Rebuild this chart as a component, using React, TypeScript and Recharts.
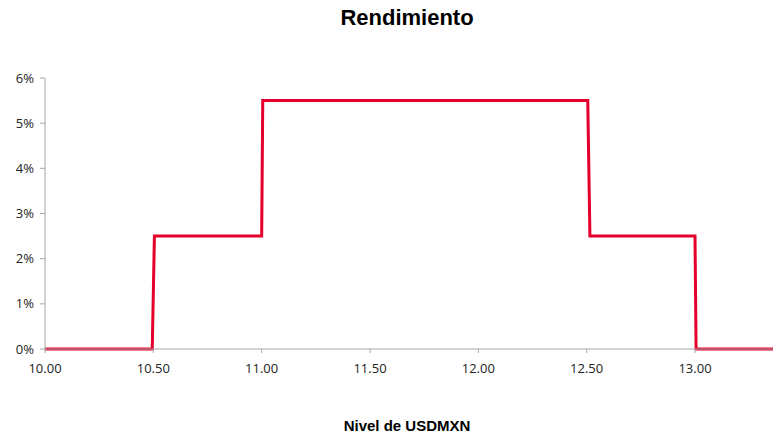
import { CartesianGrid, Line, LineChart, XAxis, YAxis } from "recharts"

// nivel de USDMXN vs rendimiento (payoff escalonado)
const nivel = [10.0, 10.495, 10.505, 11.0, 11.005, 12.505, 12.515, 13.0, 13.005, 13.36]
const rendimiento = [0, 0, 0.025, 0.025, 0.055, 0.055, 0.025, 0.025, 0, 0]

const xTicks = [10, 10.5, 11, 11.5, 12, 12.5, 13]
const yTicks = [0, 0.01, 0.02, 0.03, 0.04, 0.05, 0.06]

const data = nivel.map((x, i) => ({ x, y: rendimiento[i] }))

const axisColor = "#a6a6a6"
const tickStyle = { fontFamily: "'Open Sans', sans-serif", fontSize: 13, fill: "#222" }

export default function App() {
  return (
    <div style={{ position: "relative", width: 774, height: 439, background: "#fff" }}>
      <style>{`body{margin:0}`}</style>
      <div
        style={{
          position: "absolute",
          top: 5,
          left: 0,
          width: 814,
          textAlign: "center",
          fontFamily: "'Liberation Sans', Arial, sans-serif",
          fontWeight: "bold",
          fontSize: 22,
          color: "#000",
        }}
      >
        Rendimiento
      </div>
      <LineChart width={774} height={439} data={data} margin={{ top: 78, right: 1, left: 0, bottom: 60 }}>
        <CartesianGrid horizontal={false} vertical={false} />
        <XAxis
          dataKey="x"
          type="number"
          domain={[10, 13.36]}
          ticks={xTicks}
          allowDataOverflow
          tickFormatter={(v: number) => v.toFixed(2)}
          stroke={axisColor}
          tickSize={4}
          tickMargin={11}
          height={30}
          tick={tickStyle}
        />
        <YAxis
          type="number"
          domain={[0, 0.06]}
          ticks={yTicks}
          tickFormatter={(v: number) => `${Math.round(v * 100)}%`}
          stroke={axisColor}
          tickSize={5}
          tickMargin={6}
          width={45}
          tick={tickStyle}
        />
        <Line
          type="linear"
          dataKey="y"
          stroke="#e4002b"
          strokeWidth={3}
          dot={false}
          activeDot={false}
          isAnimationActive={false}
        />
      </LineChart>
      <div
        style={{
          position: "absolute",
          top: 417,
          left: 0,
          width: 814,
          textAlign: "center",
          fontFamily: "'Liberation Sans', Arial, sans-serif",
          fontWeight: "bold",
          fontSize: 15,
          color: "#000",
        }}
      >
        Nivel de USDMXN
      </div>
    </div>
  )
}
